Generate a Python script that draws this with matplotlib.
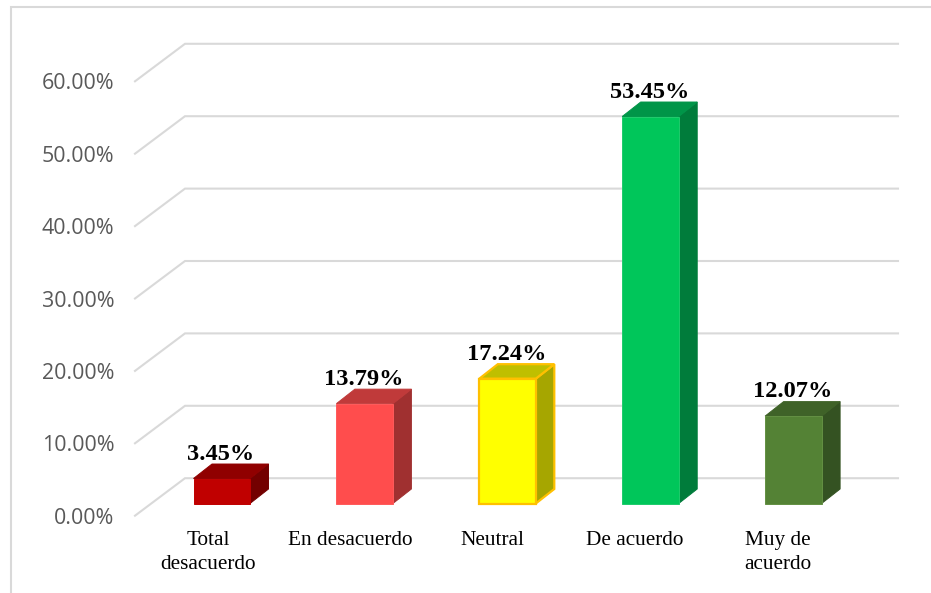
import matplotlib
matplotlib.use("Agg")
import matplotlib.pyplot as plt
from matplotlib.patches import Polygon
from matplotlib.lines import Line2D
from matplotlib.transforms import ScaledTranslation

categories = ["Total\ndesacuerdo", "En desacuerdo", "Neutral", "De acuerdo", "Muy de\nacuerdo"]
values = [3.45, 13.79, 17.24, 53.45, 12.07]
value_labels = ["3.45%", "13.79%", "17.24%", "53.45%", "12.07%"]
y_ticks = [0, 10, 20, 30, 40, 50, 60]
y_tick_labels = ["0.00%", "10.00%", "20.00%", "30.00%", "40.00%", "50.00%", "60.00%"]
front_colors = ["#C00000", "#FF4D4D", "#FFFF00", "#00C65A", "#548235"]
top_colors = ["#900000", "#C03A3A", "#BFBF00", "#009548", "#3F6228"]
side_colors = ["#730000", "#A03030", "#A6A600", "#007C3B", "#345222"]
edge_colors = ["#C00000", "#FF5A5A", "#FFC000", "#1FCB6C", "#639043"]
edge_widths = [0.7, 0.7, 1.6, 0.7, 0.7]
label_shifts_px = [-13.5, -14, -15, -16, -16]

W, H = 931, 593
fig = plt.figure(figsize=(W / 100, H / 100), dpi=100, facecolor="white")

# plot region in pixels (measured from the top-left)
L, R, T, B = 135, 898, 43.5, 515.7
ax = fig.add_axes([L / W, 1 - B / H, (R - L) / W, (B - T) / H])
px_per_cat = 142.9
px_per_unit = 7.24
x0_px = 221.75
ax.set_xlim((L - x0_px) / px_per_cat, (R - x0_px) / px_per_cat)
ax.set_ylim(0, (B - T) / px_per_unit)
ax.patch.set_visible(False)
for s in ax.spines.values():
    s.set_visible(False)

# floor depth in data units
wall_dx = 50 / px_per_cat
wall_dy = 37.5 / px_per_unit
bar_base = 12.2 / px_per_unit
bar_w = 56.5 / px_per_cat
bar_dx = 18.5 / px_per_cat
bar_dy = 14.5 / px_per_unit

x_left = ax.get_xlim()[0]
x_right = ax.get_xlim()[1]
for v in y_ticks:
    ax.plot([x_left, x_left + wall_dx, x_right], [v, v + wall_dy, v + wall_dy],
            color="#D9D9D9", lw=1.5, solid_joinstyle="miter", clip_on=False, zorder=1)

for i, v in enumerate(values):
    xa, xb = i - bar_w / 2, i + bar_w / 2
    y0, y1 = bar_base, bar_base + v
    ec, lw = edge_colors[i], edge_widths[i]
    ax.add_patch(Polygon([(xb, y0), (xb + bar_dx, y0 + bar_dy), (xb + bar_dx, y1 + bar_dy), (xb, y1)],
                         facecolor=side_colors[i], edgecolor=ec if i == 2 else side_colors[i], lw=lw, zorder=3))
    ax.add_patch(Polygon([(xa, y1), (xa + bar_dx, y1 + bar_dy), (xb + bar_dx, y1 + bar_dy), (xb, y1)],
                         facecolor=top_colors[i], edgecolor=ec if i == 2 else top_colors[i], lw=lw, zorder=3))
    ax.add_patch(Polygon([(xa, y0), (xb, y0), (xb, y1), (xa, y1)],
                         facecolor=front_colors[i], edgecolor=ec, lw=lw, zorder=4))
    ax.annotate(value_labels[i], xy=(i, y1), xytext=(-0.8, 17.6), textcoords="offset points",
                ha="center", va="center", family="Liberation Serif", fontweight="bold",
                fontsize=17.6, color="black", zorder=5, annotation_clip=False)

ax.set_yticks(y_ticks, y_tick_labels)
ax.tick_params(axis="y", length=0, pad=15, labelsize=15.4, labelcolor="#595959")
for t in ax.get_yticklabels():
    t.set_family("Open Sans")

ax.set_xticks(range(len(categories)), categories)
ax.tick_params(axis="x", length=0, pad=11, labelsize=15.3, labelcolor="black")
for t, dx in zip(ax.get_xticklabels(), label_shifts_px):
    t.set_family("Liberation Serif")
    t.set_linespacing(1.38)
    t.set_transform(t.get_transform() + ScaledTranslation(dx / 100, 0, fig.dpi_scale_trans))

frame_color = "#D9D9D9"
fx0, fy0 = 11 / W, 1 - 7 / H
fig.add_artist(Line2D([fx0, fx0, 1], [0, fy0, fy0], color=frame_color, lw=1.5,
                      solid_joinstyle="miter"))

fig.savefig("out.png", dpi=100, facecolor="white")
